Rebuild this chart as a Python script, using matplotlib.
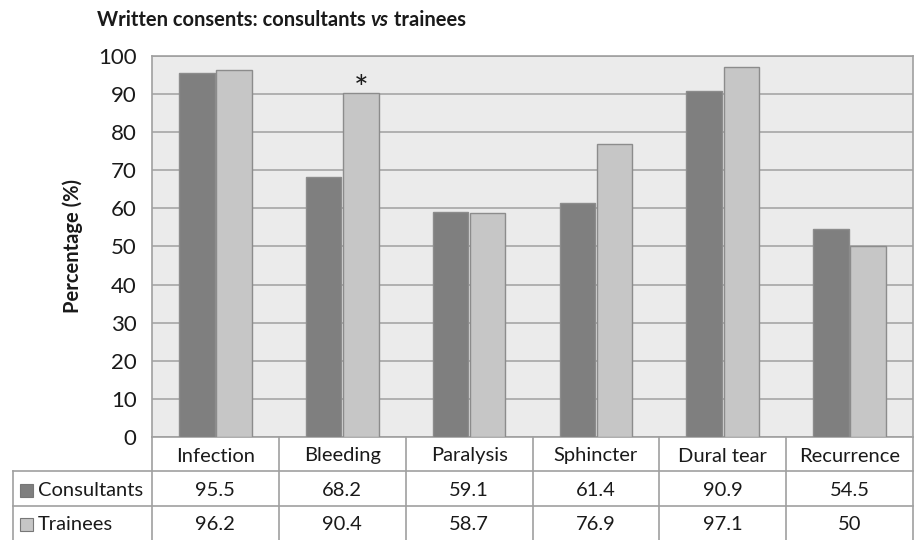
import numpy as np
import matplotlib
matplotlib.use("Agg")
import matplotlib.pyplot as plt
from matplotlib.transforms import blended_transform_factory
from matplotlib.patches import Rectangle

plt.rcParams["font.family"] = ["Lato", "DejaVu Sans"]

# DATA
categories = ["Infection", "Bleeding", "Paralysis", "Sphincter", "Dural tear", "Recurrence"]
consultants = [95.5, 68.2, 59.1, 61.4, 90.9, 54.5]
trainees = [96.2, 90.4, 58.7, 76.9, 97.1, 50]
consultants_lbl = ["95.5", "68.2", "59.1", "61.4", "90.9", "54.5"]
trainees_lbl = ["96.2", "90.4", "58.7", "76.9", "97.1", "50"]
series_names = ["Consultants", "Trainees"]
yticks = [0, 10, 20, 30, 40, 50, 60, 70, 80, 90, 100]

# STYLE
W, H = 922, 540
dark = "#7f7f7f"
light = "#c6c6c6"
edge = "#8c8c8c"
bg = "#ebebeb"
grid_c = "#a6a6a6"
line_c = "#a0a0a0"
txt_c = "#1a1a1a"
fs = 14.5

fig = plt.figure(figsize=(W / 100, H / 100), dpi=100)
ax_l, ax_r, ax_t, ax_b = 152, 913, 56, 437
ax = fig.add_axes([ax_l / W, 1 - ax_b / H, (ax_r - ax_l) / W, (ax_b - ax_t) / H])
ax.set_facecolor(bg)

x = np.arange(len(categories))
bw = 0.28
off = 0.147
ax.bar(x - off, consultants, bw, color=dark, edgecolor=edge, linewidth=1, zorder=3)
ax.bar(x + off, trainees, bw, color=light, edgecolor=edge, linewidth=1, zorder=3)

ax.set_xlim(-0.5, len(categories) - 0.5)
ax.set_ylim(0, 100)
ax.set_yticks(yticks)
ax.tick_params(axis="y", length=0, labelsize=16, pad=11, colors=txt_c)
ax.set_xticks([])
ax.yaxis.grid(True, color=grid_c, linewidth=1.2, zorder=0)
for s in ax.spines.values():
    s.set_color(line_c)
    s.set_linewidth(1.2)

ax.set_ylabel("Percentage (%)", fontsize=fs, fontweight="bold", labelpad=11,
              color=txt_c)

# significance mark
ax.text(x[1] + off, 88.5, "*", ha="center", va="baseline",
        fontsize=25, color=txt_c, zorder=5)

# title
fig.text(97 / W, 1 - 20 / H, "Written consents: consultants ", fontsize=fs,
         fontweight="bold", va="center", ha="left", color=txt_c)
t1 = fig.texts[-1]
fig.canvas.draw()
bb = t1.get_window_extent()
fig.text(bb.x1 / W, 1 - 20 / H, "vs", fontsize=fs, fontweight="bold",
         style="italic", va="center", ha="left", color=txt_c)
bb2 = fig.texts[-1].get_window_extent()
fig.text(bb2.x1 / W, 1 - 20 / H, " trainees", fontsize=fs, fontweight="bold",
         va="center", ha="left", color=txt_c)

# data table below the axes
tr = blended_transform_factory(ax.transData, ax.transAxes)
px = 1 / (ax_b - ax_t)
unit = (ax_r - ax_l) / len(categories)
x_left = -0.5 - (ax_l - 13) / unit
y_head = -34 * px
y_r1 = -69 * px
y_r2 = -110 * px

kw = dict(color=line_c, linewidth=1.2, transform=tr, clip_on=False)
for k in range(len(categories) + 1):
    ax.plot([k - 0.5, k - 0.5], [0, y_r2], **kw)
ax.plot([x_left, x_left], [y_head, y_r2], **kw)
for yy in [y_head, y_r1]:
    ax.plot([x_left, len(categories) - 0.5], [yy, yy], **kw)

row_c = [-19 * px, -53 * px, -87 * px]
for i, c in enumerate(categories):
    ax.text(i, row_c[0], c, ha="center", va="center", fontsize=fs,
            transform=tr, color=txt_c)
    ax.text(i, row_c[1], consultants_lbl[i], ha="center", va="center",
            fontsize=fs, transform=tr, color=txt_c)
    ax.text(i, row_c[2], trainees_lbl[i], ha="center", va="center",
            fontsize=fs, transform=tr, color=txt_c)

for name, col, yy in zip(series_names, [dark, light], row_c[1:]):
    ax.add_patch(Rectangle((x_left + 7 / unit, yy - 6.5 * px), 13 / unit, 13 * px,
                           facecolor=col, edgecolor="#777777", linewidth=0.8,
                           transform=tr, clip_on=False))
    ax.text(x_left + 25 / unit, yy, name, ha="left", va="center", fontsize=fs,
            transform=tr, color=txt_c)

fig.savefig("out.png", dpi=100)
